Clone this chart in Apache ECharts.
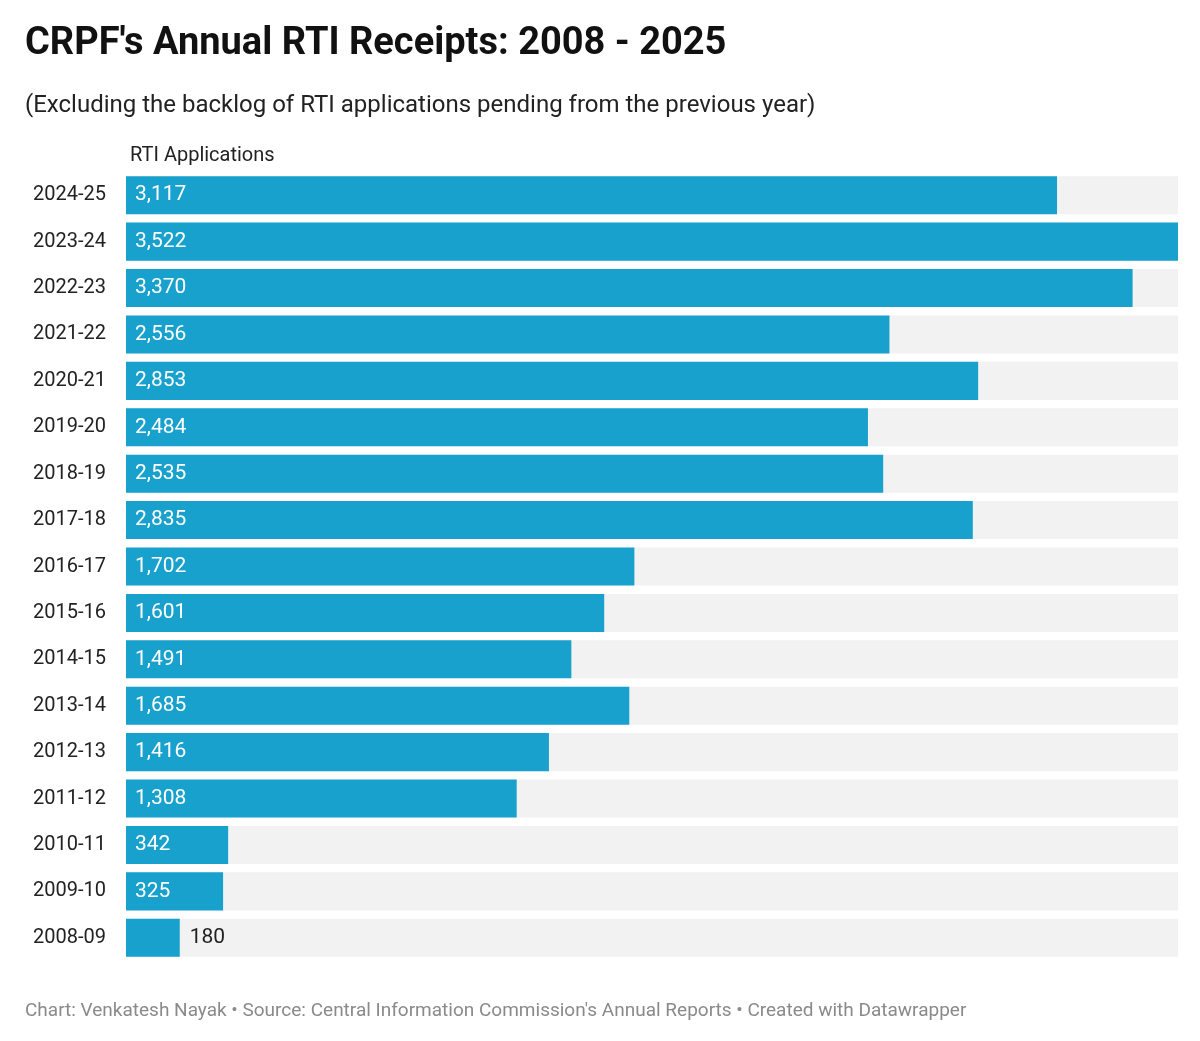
<!DOCTYPE html>
<html>
<head>
<meta charset="utf-8">
<script src="https://cdn.jsdelivr.net/npm/echarts@6/dist/echarts.min.js"></script>
<style>
  html, body { margin: 0; padding: 0; background: #fff; }
  #chart { width: 1200px; height: 1041px; }
</style>
</head>
<body>
<div id="chart"></div>
<script>
// 数据（从上到下）
const years = ['2024-25', '2023-24', '2022-23', '2021-22', '2020-21', '2019-20', '2018-19', '2017-18',
    '2016-17', '2015-16', '2014-15', '2013-14', '2012-13', '2011-12', '2010-11', '2009-10', '2008-09'];
const receipts = [3117, 3522, 3370, 2556, 2853, 2484, 2535, 2835,
    1702, 1601, 1491, 1685, 1416, 1308, 342, 325, 180];

const chart = echarts.init(document.getElementById('chart'));
const font = 'Roboto, "Noto Sans", sans-serif';

const seriesData = receipts.map(v => {
    // 太短的条标签放到外面
    if (v < 250) {
        return { value: v, label: { position: 'right', color: '#222', distance: 10 } };
    }
    return v;
});

const option = {
    backgroundColor: '#fff',
    title: [
        {
            text: "CRPF's Annual RTI Receipts: 2008 - 2025",
            left: 20, top: 20,
            textStyle: { fontFamily: font, fontSize: 38, fontWeight: 'bold', color: '#111' }
        },
        {
            text: '(Excluding the backlog of RTI applications pending from the previous year)',
            left: 20, top: 89,
            textStyle: { fontFamily: font, fontSize: 24, fontWeight: 'normal', color: '#222' }
        },
        {
            text: 'RTI Applications',
            left: 125, top: 141,
            textStyle: { fontFamily: font, fontSize: 20, fontWeight: 'normal', color: '#222' }
        },
        {
            text: "Chart: Venkatesh Nayak • Source: Central Information Commission's Annual Reports • Created with Datawrapper",
            left: 20, top: 997,
            textStyle: { fontFamily: font, fontSize: 19, fontWeight: 'normal', color: '#8a8a8a' }
        }
    ],
    grid: { left: 126, right: 22, top: 172, height: 789 },
    xAxis: {
        type: 'value', min: 0, max: 3522,
        show: false
    },
    yAxis: {
        type: 'category',
        data: years,
        inverse: true,
        axisLine: { show: false },
        axisTick: { show: false },
        axisLabel: { fontFamily: font, fontSize: 20, color: '#222', margin: 20 }
    },
    series: [{
        type: 'bar',
        data: seriesData,
        barCategoryGap: '18%',
        showBackground: true,
        backgroundStyle: { color: '#f2f2f2' },
        itemStyle: { color: '#18a1cd' },
        label: {
            show: true,
            position: 'insideLeft',
            distance: 9,
            fontFamily: font,
            fontSize: 21,
            color: '#fff',
            formatter: p => p.value.toLocaleString('en-US')
        },
        animation: false
    }]
};

chart.setOption(option);
window.addEventListener('resize', () => chart.resize());
</script>
</body>
</html>
